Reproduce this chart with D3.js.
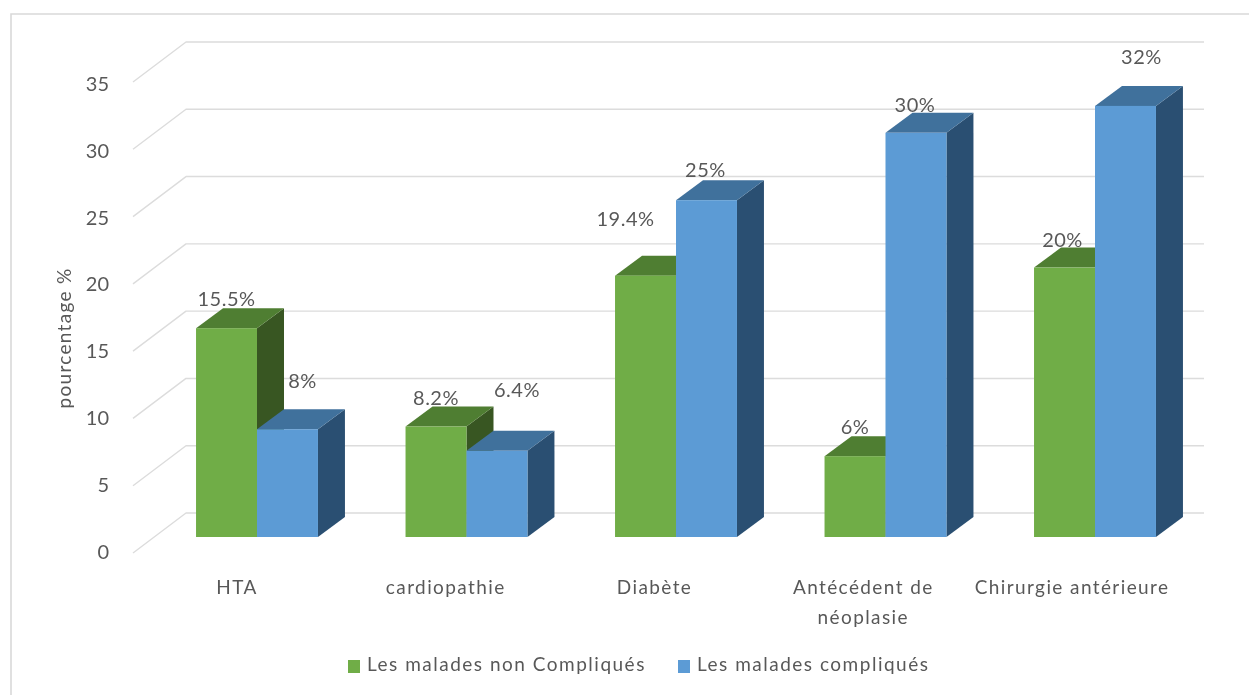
<!DOCTYPE html>
<html>
<head>
<meta charset="utf-8">
<script src="https://cdnjs.cloudflare.com/ajax/libs/d3/7.8.5/d3.min.js"></script>
<style>
html,body{margin:0;padding:0;background:#fff;}
svg{display:block;}
text{font-family:Lato,"Open Sans",sans-serif;fill:#595959;}
</style>
</head>
<body>
<div id="chart"></div>
<script>
const categories = ["HTA", "cardiopathie", "Diabète", "Antécédent de néoplasie", "Chirurgie antérieure"];
const seriesNames = ["Les malades non Compliqués", "Les malades compliqués"];
const nonCompliques = [15.5, 8.2, 19.4, 6, 20];
const compliques = [8, 6.4, 25, 30, 32];
const yTicks = [0, 5, 10, 15, 20, 25, 30, 35];

const W = 1249, H = 695;
const svg = d3.select("#chart").append("svg").attr("width", W).attr("height", H);
const defs = svg.append("defs");
defs.append("filter").attr("id", "soft").attr("x", "-2%").attr("y", "-2%").attr("width", "104%").attr("height", "104%")
  .append("feGaussianBlur").attr("stdDeviation", 0.5);
const root = svg.append("g").attr("filter", "url(#soft)");

// frame
root.append("path").attr("d", `M11,${H} V14 H${W}`).attr("fill", "none").attr("stroke", "#d9d9d9").attr("stroke-width", 1.6);

// scales
const x = d3.scaleBand().domain(categories).range([152.25, 1199.75]).paddingInner(0.418).paddingOuter(0.209);
const xLabels = d3.scaleBand().domain(categories).range([132.6, 1176.4]);
const inner = d3.scaleBand().domain([0, 1]).range([0, x.bandwidth()]);
const yFront = d3.scaleLinear().domain([0, 35]).range([537, 65.5]);
const depth = {dx: 27, dy: 20};
const wallFront = d3.scaleLinear().domain([0, 35]).range([553, 82]);
const wallBack = d3.scaleLinear().domain([0, 35]).range([513, 42]);
const tickScale = d3.scaleLinear().domain([0, 35]).range([552, 84]);

// wall grid
const wall = root.append("g");
wall.selectAll("path.grid").data(yTicks).join("path").attr("class", "grid")
  .attr("fill", "none").attr("stroke-linejoin", "round")
  .attr("stroke", "#dcdcdc").attr("stroke-width", 1.4)
  .attr("d", v => `M133,${wallFront(v)} L186,${wallBack(v)} H1204`);

// y axis
const yAxis = root.append("g").attr("transform", "translate(109,0)")
  .call(d3.axisLeft(tickScale).tickValues(yTicks).tickSize(0).tickPadding(0));
yAxis.select(".domain").remove();
yAxis.selectAll("text").attr("font-size", 20).attr("fill", "#595959").style("font-family", "Lato,sans-serif");

root.append("text").attr("transform", "translate(66,338) rotate(-90)").attr("text-anchor", "middle")
  .attr("dominant-baseline", "middle").attr("font-size", 19).attr("letter-spacing", 1.3).text("pourcentage %");

// bars
const colors = [
  {front: "#70ad47", top: "#507e32", side: "#385723"},
  {front: "#5b9bd5", top: "#41719c", side: "#2c5072"}
];
const rows = categories.map((c, i) => [nonCompliques[i], compliques[i]].map((v, s) => ({c, v, s, i})));
const bars = root.append("g");
rows.forEach(row => {
  const g = bars.append("g");
  row.forEach(d => {
    const x0 = x(d.c) + inner(d.s), x1 = x0 + inner.bandwidth();
    const yt = yFront(d.v), yb = yFront(0);
    g.append("path").attr("fill", colors[d.s].side)
      .attr("d", `M${x1},${yt} l${depth.dx},${-depth.dy} V${yb - depth.dy} L${x1},${yb} Z`);
    g.append("path").attr("fill", colors[d.s].top)
      .attr("d", `M${x0},${yt} l${depth.dx},${-depth.dy} H${x1 + depth.dx} L${x1},${yt} Z`);
    g.append("rect").attr("x", x0).attr("y", yt).attr("width", x1 - x0).attr("height", yb - yt).attr("fill", colors[d.s].front);
  });
});

// data labels (hand-placed in the original, offsets from the bar's top centre)
const labelOffsets = [
  [[0, -27], [15, -46]],
  [[0, -27], [20, -59]],
  [[-20, -55], [-1, -28]],
  [[0, -27], [-1, -26]],
  [[-2, -26], [16, -47]]
];
const labels = root.append("g");
rows.forEach((row, i) => row.forEach(d => {
  labels.append("text")
    .attr("x", x(d.c) + inner(d.s) + inner.bandwidth() / 2 + labelOffsets[i][d.s][0])
    .attr("y", yFront(d.v) + labelOffsets[i][d.s][1])
    .attr("text-anchor", "middle").attr("dominant-baseline", "middle")
    .attr("font-size", 20).attr("letter-spacing", 0.5).attr("fill", "#404040").text(d.v + "%");
}));

// category axis
const xAxis = root.append("g").attr("transform", "translate(0,574)")
  .call(d3.axisBottom(xLabels).tickSize(0).tickPadding(0));
xAxis.select(".domain").remove();
xAxis.selectAll("text").each(function (d) {
  const t = d3.select(this);
  const parts = d === "Antécédent de néoplasie" ? ["Antécédent de", "néoplasie"] : [d];
  t.text(null).attr("y", 0).attr("dy", null).attr("font-size", 19).attr("fill", "#595959")
   .attr("letter-spacing", 1.4).style("font-family", "Lato,sans-serif");
  parts.forEach((p, k) => t.append("tspan").attr("x", 0).attr("y", 20 + k * 30).text(p));
});

// legend
const legendX = [348, 678];
const legend = root.append("g").selectAll("g").data(seriesNames).join("g")
  .attr("transform", (d, i) => `translate(${legendX[i]},660)`);
legend.append("rect").attr("width", 12).attr("height", 13).attr("fill", (d, i) => colors[i].front);
legend.append("text").attr("x", 19).attr("y", 6).attr("dominant-baseline", "middle")
  .attr("font-size", 19).attr("letter-spacing", 1.5).text(d => d);
</script>
</body>
</html>
